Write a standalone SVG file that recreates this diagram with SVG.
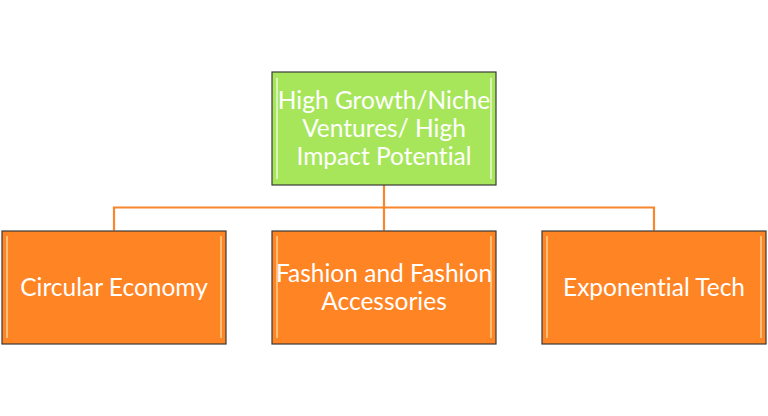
<svg xmlns="http://www.w3.org/2000/svg" width="768" height="416" viewBox="0 0 768 416">
<style>
.box{stroke:#3a3a3a;stroke-width:1.2}
.green{fill:#A7E65B}
.orange{fill:#FF8424}
.hl{fill:none;stroke:#FFFFFF;stroke-opacity:0.55;stroke-width:2}
.hl2{fill:none;stroke:#FFF3C0;stroke-opacity:0.7;stroke-width:1.5}
.lbl{font-family:"Lato","Open Sans","Liberation Sans",sans-serif;font-size:24.5px;fill:#FFFFFF;text-anchor:middle;font-variant-ligatures:none}
.con{fill:none;stroke:#F7862C;stroke-width:2.2}
</style>
<rect width="768" height="416" fill="#FFFFFF"/>
<g id="connectors">
<path class="con" d="M384 185 V207.5 M114 230.5 V207.5 H654 V230.5 M384 207.5 V230.5"/>
</g>
<g id="node-top">
<rect class="box green" x="272" y="72" width="224" height="113"/>
<path class="hl" d="M277 78 V179 M491 78 V179"/>
<text class="lbl" x="384" y="109">High Growth/Niche</text>
<text class="lbl" x="384" y="137">Ventures/ High</text>
<text class="lbl" x="384" y="165">Impact Potential</text>
</g>
<g id="node-circular">
<rect class="box orange" x="2" y="231" width="224" height="113"/>
<path class="hl2" d="M7 236 V338 M221 236 V338"/>
<text class="lbl" x="114" y="296">Circular Economy</text>
</g>
<g id="node-fashion">
<rect class="box orange" x="272" y="231" width="224" height="113"/>
<path class="hl2" d="M277 236 V338 M491 236 V338"/>
<text class="lbl" x="384" y="282">Fashion and Fashion</text>
<text class="lbl" x="384" y="310">Accessories</text>
</g>
<g id="node-exp">
<rect class="box orange" x="542" y="231" width="224" height="113"/>
<path class="hl2" d="M547 236 V338 M761 236 V338"/>
<text class="lbl" x="654" y="296">Exponential Tech</text>
</g>
</svg>
